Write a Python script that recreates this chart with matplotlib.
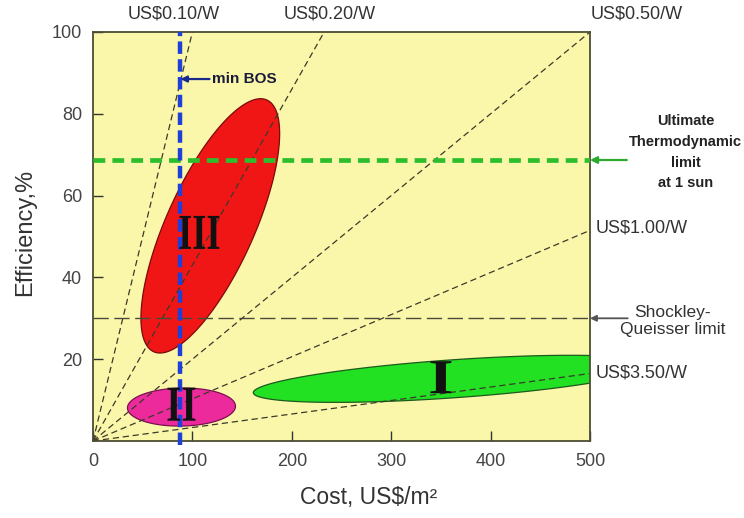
"""Efficiency vs. cost map of the three PV generations."""
import numpy as np
import matplotlib
matplotlib.use("Agg")
import matplotlib.pyplot as plt
from matplotlib.patches import Polygon, PathPatch
from matplotlib.path import Path
from matplotlib.textpath import TextPath
from matplotlib.font_manager import FontProperties

plt.rcParams["font.family"] = ["Liberation Sans", "DejaVu Sans"]

# price-per-watt guide lines: efficiency (%) per US$/m2
price_labels = ["US$0.10/W", "US$0.20/W", "US$0.50/W", "US$1.00/W", "US$3.50/W"]
price_slopes = [1.0, 0.43, 0.2, 0.103, 0.033]

# technology generations: centre of each region (cost US$/m2, efficiency %)
region_names = ["I", "II", "III"]
region_cost = [362, 89, 118]
region_eff = [15.2, 8.3, 52.6]
# where the roman numeral sits
label_cost = [350, 89, 107]
label_eff = [15.6, 9.0, 51.0]

min_bos_cost = 88      # US$/m2
thermo_limit = 68.7    # %
sq_limit = 30          # %

x_ticks = [0, 100, 200, 300, 400, 500]
y_ticks = [20, 40, 60, 80, 100]

W, H = 744, 518
fig = plt.figure(figsize=(W / 100, H / 100), dpi=100)
ax = fig.add_axes([93 / W, 77 / H, 497 / W, 409 / H])
ax.set_xlim(0, 500)
ax.set_ylim(0, 100)
ax.set_facecolor("#FBF7AA")

# pixels per data unit, used to draw shapes sized on screen
sx = 497 / 500
sy = 409 / 100


def ellipse(cx, cy, a, b, angle):
    t = np.linspace(0, 2 * np.pi, 240)
    u, v = a * np.cos(t), b * np.sin(t)
    th = np.radians(angle)
    dx = u * np.cos(th) - v * np.sin(th)
    dy = u * np.sin(th) + v * np.cos(th)
    return np.column_stack([cx + dx / sx, cy + dy / sy])


# shape of each region on screen: semi axes (px), tilt (deg), fill, edge
shapes = {
    "I": (200, 19, 4.0, "#22E022", "#1d5a1d"),
    "II": (54, 19, 1.0, "#EC2A9C", "#7a1050"),
    "III": (138, 44, 65.8, "#F01616", "#7a0a0a"),
}
for name, cx, cy in zip(region_names, region_cost, region_eff):
    a, b, ang, fc, ec = shapes[name]
    ax.add_patch(Polygon(ellipse(cx, cy, a, b, ang), closed=True,
                         facecolor=fc, edgecolor=ec, lw=0.9, zorder=1))

# price lines from the origin
xs = np.array([0, 500])
for slope in price_slopes:
    ln, = ax.plot(xs, slope * xs, color="#3a3a2a", lw=0.9, zorder=2)
    ln.set_dashes((5, 3))

# limits
ln, = ax.plot([0, 500], [sq_limit, sq_limit], color="#4a4a3a", lw=1.0, zorder=2)
ln.set_dashes((11, 4))
ln, = ax.plot([0, 500], [thermo_limit, thermo_limit], color="#2DBE2D", lw=3.4, zorder=3)
ln.set_dashes((2.5, 1.5))
ln, = ax.plot([min_bos_cost, min_bos_cost], [-1, 100], color="#1E3FD8", lw=3.2,
              zorder=3, clip_on=False)
ln.set_dashes((2.8, 1.2))

# roman numerals: narrow serif glyphs, sized in pixels (width, height)
numeral_px = {"I": (21, 32), "II": (28, 33), "III": (40, 33)}
fp = FontProperties(family="Liberation Serif", weight="bold")
for name, lx, ly in zip(region_names, label_cost, label_eff):
    tp = TextPath((0, 0), name, size=1, prop=fp)
    bb = tp.get_extents()
    w, h = numeral_px[name]
    v = tp.vertices.copy()
    v[:, 0] = lx + (v[:, 0] - (bb.x0 + bb.x1) / 2) / bb.width * w / sx
    v[:, 1] = ly + (v[:, 1] - (bb.y0 + bb.y1) / 2) / bb.height * h / sy
    ax.add_patch(PathPatch(Path(v, tp.codes), facecolor="#111111",
                           edgecolor="none", zorder=5))

# price labels
ax.text(81, 104.3, price_labels[0], fontsize=13, color="#333333", ha="center",
        va="center", clip_on=False)
ax.text(238, 104.3, price_labels[1], fontsize=13, color="#333333", ha="center",
        va="center", clip_on=False)
ax.text(547, 104.3, price_labels[2], fontsize=13, color="#333333", ha="center",
        va="center", clip_on=False)
ax.text(506, 52, price_labels[3], fontsize=13, color="#333333", ha="left",
        va="center", clip_on=False)
ax.text(506, 16.6, price_labels[4], fontsize=13, color="#333333", ha="left",
        va="center", clip_on=False)

# annotations
ax.annotate("min BOS", xy=(min_bos_cost, 88.5), xytext=(120, 88.5),
            fontsize=11, fontweight="bold", color="#1a1a3a", va="center",
            arrowprops=dict(arrowstyle="-|>", color="#1a2a8a", lw=1.6,
                            mutation_scale=9, shrinkA=0, shrinkB=0), zorder=6)
ax.annotate("", xy=(500, thermo_limit), xytext=(537, thermo_limit),
            annotation_clip=False,
            arrowprops=dict(arrowstyle="-|>", color="#2DAA2D", lw=1.6,
                            mutation_scale=10, shrinkA=0, shrinkB=0))
ax.text(596, 70.6, "Ultimate\nThermodynamic\nlimit\nat 1 sun", fontsize=10.5,
        fontweight="bold", color="#222222", ha="center", va="center",
        linespacing=1.6, clip_on=False)
ax.annotate("", xy=(500, sq_limit), xytext=(538, sq_limit),
            annotation_clip=False,
            arrowprops=dict(arrowstyle="-|>", color="#555555", lw=1.3,
                            mutation_scale=9, shrinkA=0, shrinkB=0))
ax.text(583, 29.3, "Shockley-\nQueisser limit", fontsize=12.5, color="#333333",
        ha="center", va="center", linespacing=1.2, clip_on=False)

# axes styling
ax.set_xticks(x_ticks)
ax.set_yticks(y_ticks)
ax.tick_params(direction="in", length=7, width=1, color="#333333",
               labelsize=13, labelcolor="#444444", top=False, right=False)
ax.tick_params(axis="x", pad=9)
ax.tick_params(axis="y", pad=8)
for sp in ax.spines.values():
    sp.set_color("#4d4d33")
    sp.set_linewidth(1.3)

ax.set_xlabel("Cost, US$/m\u00b2", fontsize=16.5, color="#333333", va="center")
ax.xaxis.set_label_coords(0.555, -0.137)
ax.set_ylabel("Efficiency,%", fontsize=17, color="#333333", va="center")
ax.yaxis.set_label_coords(-0.137, 0.51)

fig.savefig("out.png", dpi=100)
